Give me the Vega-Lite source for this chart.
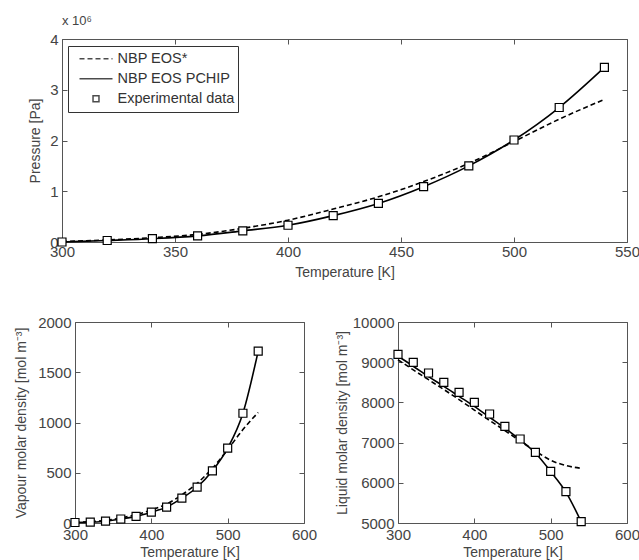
{
  "$schema": "https://vega.github.io/schema/vega-lite/v6.json",
  "padding": {"left": 14, "top": 14, "right": 0, "bottom": 0},
  "background": "white",
  "spacing": 34,
  "datasets": {
    "pressure": [
      {"T": 300, "v": 0.01, "series": "NBP EOS*"},
      {"T": 320, "v": 0.04, "series": "NBP EOS*"},
      {"T": 340, "v": 0.085, "series": "NBP EOS*"},
      {"T": 360, "v": 0.15, "series": "NBP EOS*"},
      {"T": 380, "v": 0.27, "series": "NBP EOS*"},
      {"T": 400, "v": 0.43, "series": "NBP EOS*"},
      {"T": 420, "v": 0.65, "series": "NBP EOS*"},
      {"T": 440, "v": 0.89, "series": "NBP EOS*"},
      {"T": 460, "v": 1.19, "series": "NBP EOS*"},
      {"T": 480, "v": 1.55, "series": "NBP EOS*"},
      {"T": 500, "v": 1.98, "series": "NBP EOS*"},
      {"T": 520, "v": 2.42, "series": "NBP EOS*"},
      {"T": 540, "v": 2.81, "series": "NBP EOS*"},
      {"T": 300, "v": 0.0, "series": "NBP EOS PCHIP"},
      {"T": 320, "v": 0.03, "series": "NBP EOS PCHIP"},
      {"T": 340, "v": 0.065, "series": "NBP EOS PCHIP"},
      {"T": 360, "v": 0.12, "series": "NBP EOS PCHIP"},
      {"T": 380, "v": 0.22, "series": "NBP EOS PCHIP"},
      {"T": 400, "v": 0.33, "series": "NBP EOS PCHIP"},
      {"T": 420, "v": 0.52, "series": "NBP EOS PCHIP"},
      {"T": 440, "v": 0.76, "series": "NBP EOS PCHIP"},
      {"T": 460, "v": 1.09, "series": "NBP EOS PCHIP"},
      {"T": 480, "v": 1.5, "series": "NBP EOS PCHIP"},
      {"T": 500, "v": 2.01, "series": "NBP EOS PCHIP"},
      {"T": 520, "v": 2.65, "series": "NBP EOS PCHIP"},
      {"T": 540, "v": 3.44, "series": "NBP EOS PCHIP"},
      {"T": 300, "v": 0.0, "series": "Experimental data"},
      {"T": 320, "v": 0.03, "series": "Experimental data"},
      {"T": 340, "v": 0.065, "series": "Experimental data"},
      {"T": 360, "v": 0.12, "series": "Experimental data"},
      {"T": 380, "v": 0.22, "series": "Experimental data"},
      {"T": 400, "v": 0.33, "series": "Experimental data"},
      {"T": 420, "v": 0.52, "series": "Experimental data"},
      {"T": 440, "v": 0.76, "series": "Experimental data"},
      {"T": 460, "v": 1.09, "series": "Experimental data"},
      {"T": 480, "v": 1.5, "series": "Experimental data"},
      {"T": 500, "v": 2.01, "series": "Experimental data"},
      {"T": 520, "v": 2.65, "series": "Experimental data"},
      {"T": 540, "v": 3.44, "series": "Experimental data"}
    ],
    "vapour": [
      {"T": 300, "v": 4, "series": "NBP EOS*"},
      {"T": 320, "v": 13, "series": "NBP EOS*"},
      {"T": 340, "v": 27, "series": "NBP EOS*"},
      {"T": 360, "v": 50, "series": "NBP EOS*"},
      {"T": 380, "v": 83, "series": "NBP EOS*"},
      {"T": 400, "v": 129, "series": "NBP EOS*"},
      {"T": 420, "v": 189, "series": "NBP EOS*"},
      {"T": 440, "v": 280, "series": "NBP EOS*"},
      {"T": 460, "v": 395, "series": "NBP EOS*"},
      {"T": 480, "v": 545, "series": "NBP EOS*"},
      {"T": 500, "v": 730, "series": "NBP EOS*"},
      {"T": 520, "v": 930, "series": "NBP EOS*"},
      {"T": 540, "v": 1100, "series": "NBP EOS*"},
      {"T": 300, "v": 5, "series": "NBP EOS PCHIP"},
      {"T": 320, "v": 9, "series": "NBP EOS PCHIP"},
      {"T": 340, "v": 18, "series": "NBP EOS PCHIP"},
      {"T": 360, "v": 40, "series": "NBP EOS PCHIP"},
      {"T": 380, "v": 66, "series": "NBP EOS PCHIP"},
      {"T": 400, "v": 108, "series": "NBP EOS PCHIP"},
      {"T": 420, "v": 158, "series": "NBP EOS PCHIP"},
      {"T": 440, "v": 247, "series": "NBP EOS PCHIP"},
      {"T": 460, "v": 356, "series": "NBP EOS PCHIP"},
      {"T": 480, "v": 519, "series": "NBP EOS PCHIP"},
      {"T": 500, "v": 745, "series": "NBP EOS PCHIP"},
      {"T": 520, "v": 1092, "series": "NBP EOS PCHIP"},
      {"T": 540, "v": 1710, "series": "NBP EOS PCHIP"},
      {"T": 300, "v": 5, "series": "Experimental data"},
      {"T": 320, "v": 9, "series": "Experimental data"},
      {"T": 340, "v": 18, "series": "Experimental data"},
      {"T": 360, "v": 40, "series": "Experimental data"},
      {"T": 380, "v": 66, "series": "Experimental data"},
      {"T": 400, "v": 108, "series": "Experimental data"},
      {"T": 420, "v": 158, "series": "Experimental data"},
      {"T": 440, "v": 247, "series": "Experimental data"},
      {"T": 460, "v": 356, "series": "Experimental data"},
      {"T": 480, "v": 519, "series": "Experimental data"},
      {"T": 500, "v": 745, "series": "Experimental data"},
      {"T": 520, "v": 1092, "series": "Experimental data"},
      {"T": 540, "v": 1710, "series": "Experimental data"}
    ],
    "liquid": [
      {"T": 300, "v": 9060, "series": "NBP EOS*"},
      {"T": 320, "v": 8810, "series": "NBP EOS*"},
      {"T": 340, "v": 8565, "series": "NBP EOS*"},
      {"T": 360, "v": 8320, "series": "NBP EOS*"},
      {"T": 380, "v": 8070, "series": "NBP EOS*"},
      {"T": 400, "v": 7810, "series": "NBP EOS*"},
      {"T": 420, "v": 7550, "series": "NBP EOS*"},
      {"T": 440, "v": 7300, "series": "NBP EOS*"},
      {"T": 460, "v": 7040, "series": "NBP EOS*"},
      {"T": 480, "v": 6790, "series": "NBP EOS*"},
      {"T": 500, "v": 6560, "series": "NBP EOS*"},
      {"T": 520, "v": 6430, "series": "NBP EOS*"},
      {"T": 540, "v": 6360, "series": "NBP EOS*"},
      {"T": 300, "v": 9150, "series": "NBP EOS PCHIP"},
      {"T": 320, "v": 8900, "series": "NBP EOS PCHIP"},
      {"T": 340, "v": 8640, "series": "NBP EOS PCHIP"},
      {"T": 360, "v": 8400, "series": "NBP EOS PCHIP"},
      {"T": 380, "v": 8150, "series": "NBP EOS PCHIP"},
      {"T": 400, "v": 7900, "series": "NBP EOS PCHIP"},
      {"T": 420, "v": 7630, "series": "NBP EOS PCHIP"},
      {"T": 440, "v": 7360, "series": "NBP EOS PCHIP"},
      {"T": 460, "v": 7070, "series": "NBP EOS PCHIP"},
      {"T": 480, "v": 6740, "series": "NBP EOS PCHIP"},
      {"T": 500, "v": 6280, "series": "NBP EOS PCHIP"},
      {"T": 520, "v": 5770, "series": "NBP EOS PCHIP"},
      {"T": 540, "v": 5030, "series": "NBP EOS PCHIP"},
      {"T": 300, "v": 9194, "series": "Experimental data"},
      {"T": 320, "v": 8997, "series": "Experimental data"},
      {"T": 340, "v": 8731, "series": "Experimental data"},
      {"T": 360, "v": 8500, "series": "Experimental data"},
      {"T": 380, "v": 8251, "series": "Experimental data"},
      {"T": 400, "v": 8002, "series": "Experimental data"},
      {"T": 420, "v": 7711, "series": "Experimental data"},
      {"T": 440, "v": 7405, "series": "Experimental data"},
      {"T": 460, "v": 7090, "series": "Experimental data"},
      {"T": 480, "v": 6759, "series": "Experimental data"},
      {"T": 500, "v": 6286, "series": "Experimental data"},
      {"T": 520, "v": 5779, "series": "Experimental data"},
      {"T": 540, "v": 5032, "series": "Experimental data"}
    ]
  },
  "vconcat": [
    {
      "width": 565,
      "height": 203,
      "title": {"text": "x 10⁶", "anchor": "start", "frame": "group", "fontSize": 13, "fontWeight": "normal", "color": "#444", "offset": 4, "font": "Liberation Sans"},
      "data": {"name": "pressure"},
      "layer": [
        {
          "transform": [{"filter": "datum.series === 'NBP EOS*'"}],
          "mark": {"type": "line", "interpolate": "monotone", "stroke": "black", "strokeWidth": 1.6, "strokeDash": [5, 3]},
          "encoding": {
            "x": {"field": "T", "type": "quantitative", "scale": {"domain": [300, 550], "nice": false, "zero": false},
                  "axis": {"values": [300, 350, 400, 450, 500, 550], "format": "d", "title": "Temperature [K]", "labelPadding": 7, "titlePadding": 6}},
            "y": {"field": "v", "type": "quantitative", "scale": {"domain": [0, 4], "nice": false, "zero": false},
                  "axis": {"values": [0, 1, 2, 3, 4], "format": "d", "title": "Pressure [Pa]", "labelPadding": 9, "titlePadding": 7}}
          }
        },
        {
          "transform": [{"filter": "datum.series === 'NBP EOS PCHIP'"}],
          "mark": {"type": "line", "interpolate": "monotone", "stroke": "black", "strokeWidth": 1.6},
          "encoding": {
            "x": {"field": "T", "type": "quantitative", "axis": null},
            "y": {"field": "v", "type": "quantitative", "axis": null}
          }
        },
        {
          "transform": [{"filter": "datum.series === 'Experimental data'"}],
          "mark": {"type": "point", "shape": "square", "filled": true, "fill": "white", "stroke": "black", "strokeWidth": 1.2, "size": 64, "opacity": 1},
          "encoding": {
            "x": {"field": "T", "type": "quantitative", "axis": {"orient": "top", "values": [300, 350, 400, 450, 500, 550], "labels": false, "title": null}},
            "y": {"field": "v", "type": "quantitative", "axis": {"orient": "right", "values": [0, 1, 2, 3, 4], "labels": false, "title": null}}
          }
        },
        {
          "transform": [{"filter": "datum.T > 9999"}],
          "mark": {"type": "point", "filled": false, "stroke": "black", "strokeWidth": 1.6, "size": 1089},
          "encoding": {
            "x": {"field": "T", "type": "quantitative", "axis": null},
            "y": {"field": "v", "type": "quantitative", "axis": null},
            "shape": {"field": "series", "type": "nominal",
              "scale": {"domain": ["NBP EOS*", "NBP EOS PCHIP", "Experimental data"], "range": ["stroke", "stroke", "M-0.18,-0.18H0.18V0.18H-0.18Z"]},
              "legend": {"orient": "none", "legendX": 6, "legendY": 7, "title": null, "strokeColor": "#333", "fillColor": "white", "padding": 3, "symbolOffset": 7.5, "symbolSize": 1089, "clipHeight": 19.5, "rowPadding": 0, "labelFontSize": 14.5, "labelOffset": 4}},
            "strokeDash": {"field": "series", "type": "nominal",
              "scale": {"domain": ["NBP EOS*", "NBP EOS PCHIP", "Experimental data"], "range": [[5, 3], [1, 0], [1, 0]]},
              "legend": {"orient": "none", "legendX": 6, "legendY": 7, "title": null, "strokeColor": "#333", "fillColor": "white", "padding": 3, "symbolOffset": 7.5, "symbolSize": 1089, "clipHeight": 19.5, "rowPadding": 0, "labelFontSize": 14.5, "labelOffset": 4}}
          }
        }
      ],
      "resolve": {"axis": {"x": "independent", "y": "independent"}}
    },
    {
      "spacing": -49,
      "hconcat": [
        {
          "width": 1,
          "height": 1,
          "view": {"stroke": null},
          "data": {"values": []},
          "mark": {"type": "point", "opacity": 0},
          "encoding": {
            "x": {"field": "a", "type": "quantitative", "axis": null},
            "y": {"field": "b", "type": "quantitative", "axis": null}
          }
        },
        {
          "spacing": 16,
          "hconcat": [
            {
              "width": 229,
              "height": 201,
              "data": {"name": "vapour"},
              "layer": [
                {
                  "transform": [{"filter": "datum.series === 'NBP EOS*'"}],
                  "mark": {"type": "line", "interpolate": "monotone", "stroke": "black", "strokeWidth": 1.6, "strokeDash": [5, 3]},
                  "encoding": {
                    "x": {"field": "T", "type": "quantitative", "scale": {"domain": [300, 600], "nice": false, "zero": false},
                          "axis": {"values": [300, 400, 500, 600], "format": "d", "title": "Temperature [K]", "labelPadding": 9, "titlePadding": 3}},
                    "y": {"field": "v", "type": "quantitative", "scale": {"domain": [0, 2000], "nice": false, "zero": false},
                          "axis": {"values": [0, 500, 1000, 1500, 2000], "format": "d", "title": "Vapour molar density [mol m⁻³]", "labelPadding": 9, "titlePadding": 9}}
                  }
                },
                {
                  "transform": [{"filter": "datum.series === 'NBP EOS PCHIP'"}],
                  "mark": {"type": "line", "interpolate": "monotone", "stroke": "black", "strokeWidth": 1.6},
                  "encoding": {
                    "x": {"field": "T", "type": "quantitative", "axis": null},
                    "y": {"field": "v", "type": "quantitative", "axis": null}
                  }
                },
                {
                  "transform": [{"filter": "datum.series === 'Experimental data'"}],
                  "mark": {"type": "point", "shape": "square", "filled": true, "fill": "white", "stroke": "black", "strokeWidth": 1.2, "size": 64, "opacity": 1},
                  "encoding": {
                    "x": {"field": "T", "type": "quantitative", "axis": {"orient": "top", "values": [300, 400, 500, 600], "labels": false, "title": null}},
                    "y": {"field": "v", "type": "quantitative", "axis": {"orient": "right", "values": [0, 500, 1000, 1500, 2000], "labels": false, "title": null}}
                  }
                }
              ],
              "resolve": {"axis": {"x": "independent", "y": "independent"}}
            },
            {
              "width": 229,
              "height": 201,
              "data": {"name": "liquid"},
              "layer": [
                {
                  "transform": [{"filter": "datum.series === 'NBP EOS*'"}],
                  "mark": {"type": "line", "interpolate": "monotone", "stroke": "black", "strokeWidth": 1.6, "strokeDash": [5, 3]},
                  "encoding": {
                    "x": {"field": "T", "type": "quantitative", "scale": {"domain": [300, 600], "nice": false, "zero": false},
                          "axis": {"values": [300, 400, 500, 600], "format": "d", "title": "Temperature [K]", "labelPadding": 9, "titlePadding": 3}},
                    "y": {"field": "v", "type": "quantitative", "scale": {"domain": [5000, 10000], "nice": false, "zero": false},
                          "axis": {"values": [5000, 6000, 7000, 8000, 9000, 10000], "format": "d", "title": "Liquid molar density [mol m⁻³]", "labelPadding": 9, "titlePadding": 3}}
                  }
                },
                {
                  "transform": [{"filter": "datum.series === 'NBP EOS PCHIP'"}],
                  "mark": {"type": "line", "interpolate": "monotone", "stroke": "black", "strokeWidth": 1.6},
                  "encoding": {
                    "x": {"field": "T", "type": "quantitative", "axis": null},
                    "y": {"field": "v", "type": "quantitative", "axis": null}
                  }
                },
                {
                  "transform": [{"filter": "datum.series === 'Experimental data'"}],
                  "mark": {"type": "point", "shape": "square", "filled": true, "fill": "white", "stroke": "black", "strokeWidth": 1.2, "size": 64, "opacity": 1},
                  "encoding": {
                    "x": {"field": "T", "type": "quantitative", "axis": {"orient": "top", "values": [300, 400, 500, 600], "labels": false, "title": null}},
                    "y": {"field": "v", "type": "quantitative", "axis": {"orient": "right", "values": [5000, 6000, 7000, 8000, 9000, 10000], "labels": false, "title": null}}
                  }
                }
              ],
              "resolve": {"axis": {"x": "independent", "y": "independent"}}
            }
          ]
        }
      ]
    }
  ],
  "config": {
    "font": "Liberation Sans",
    "view": {"stroke": "#555", "strokeWidth": 1},
    "legend": {"labelFont": "Liberation Sans", "labelColor": "#333"},
    "axis": {
      "labelFont": "Liberation Sans", "labelFontSize": 15, "labelColor": "#444",
      "titleFont": "Liberation Sans", "titleFontSize": 14, "titleFontWeight": "normal", "titleColor": "#444",
      "domain": false, "grid": false, "tickColor": "#555", "tickSize": -5, "tickWidth": 1,
      "labelFlush": false, "labelOverlap": false, "labelBound": false
    }
  }
}
